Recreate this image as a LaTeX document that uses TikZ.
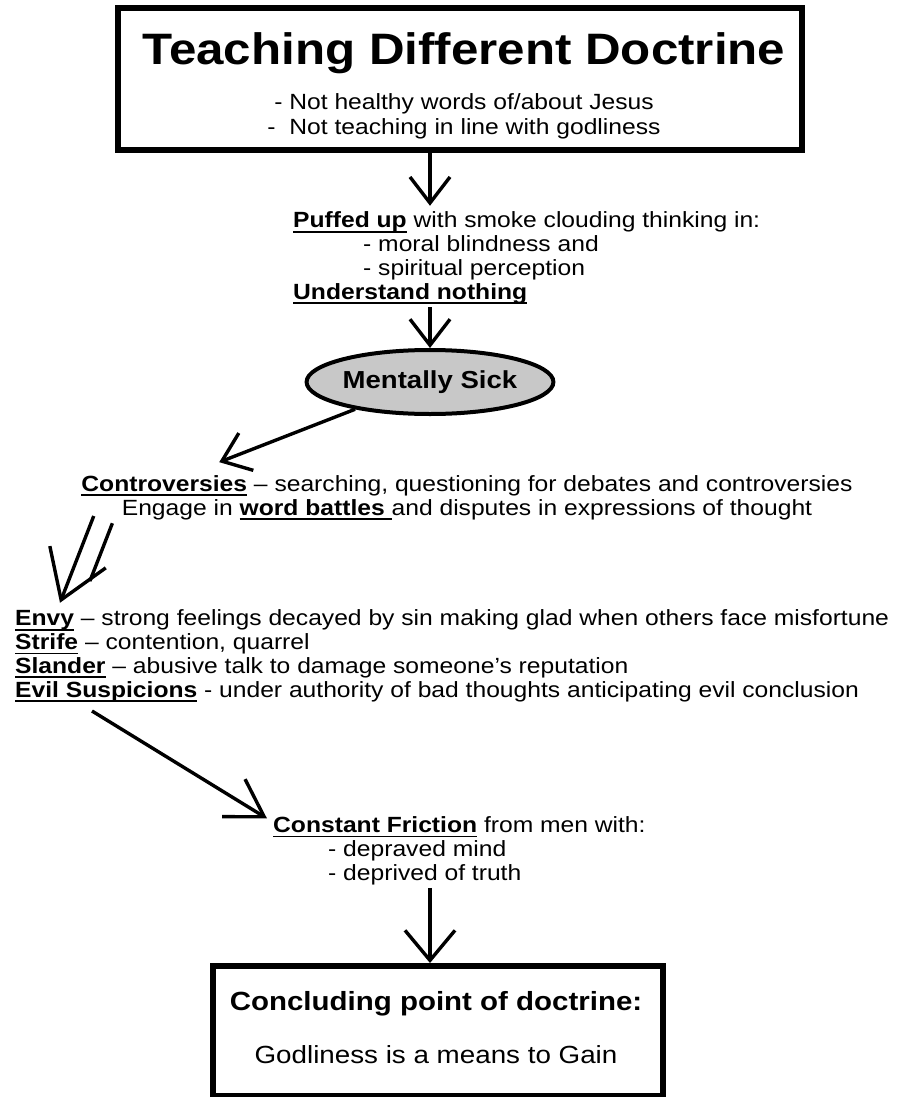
\documentclass[tikz,border=0pt]{standalone}
\usepackage{fontspec}
\setmainfont{Liberation Sans}[FakeStretch=1.12]
\usetikzlibrary{arrows.meta,shapes.geometric,calc,positioning}
\definecolor{sickgray}{RGB}{200,200,200}
\newcommand{\ulbf}[1]{\setbox0\hbox{\bfseries #1}\rlap{\rule[-4.8pt]{\wd0}{1.8pt}}\box0\relax}

\begin{document}
\begin{tikzpicture}[x=1pt,y=-1pt,
  box/.style={draw, line width=5.5pt, inner sep=0pt},
  txt/.style={inner sep=0pt, font=\fontsize{22}{23.7}\selectfont},
  arr/.style={line width=3.4pt, -{Straight Barb[length=26pt,width=40pt]}}]
\useasboundingbox (0,0) rectangle (910,1097);

\node[box, minimum width=684pt, minimum height=142pt] (top) at (460,79) {};
\node[inner sep=0pt, anchor=base, font=\fontsize{44}{44}\selectfont\bfseries] (title) at (464,65) {Teaching Different Doctrine};
\node[inner sep=0pt, anchor=base, align=center, font=\fontsize{22}{25}\selectfont] (notes) at (464,135) {- Not healthy words of/about Jesus\\-\ \ Not teaching in line with godliness};

\node[txt, anchor=base west, align=left] (puff) at (293,299) {\ulbf{Puffed up} with smoke clouding thinking in:\\\hspace*{70pt}- moral blindness and\\\hspace*{70pt}- spiritual perception\\\ulbf{Understand nothing}};

\node[ellipse, draw, line width=4pt, fill=sickgray, inner sep=0pt, minimum width=242pt, minimum height=64pt, font=\fontsize{24.6}{25}\selectfont\bfseries] (sick) at (430,382) {Mentally Sick};

\node[txt, anchor=base, align=center] (ctrv) at (467,515) {\ulbf{Controversies} – searching, questioning for debates and controversies\\Engage in \ulbf{word battles\ }and disputes in expressions of thought};

\node[txt, anchor=base west, align=left] (envy) at (15,697) {\ulbf{Envy} – strong feelings decayed by sin making glad when others face misfortune\\\ulbf{Strife} – contention, quarrel\\\ulbf{Slander} – abusive talk to damage someone’s reputation\\\ulbf{Evil Suspicions} - under authority of bad thoughts anticipating evil conclusion};

\node[txt, anchor=base west, align=left] (frict) at (273,880) {\ulbf{Constant Friction} from men with:\\\hspace*{55pt}- depraved mind\\\hspace*{55pt}- deprived of truth};

\node[box, anchor=north, minimum width=450pt, minimum height=130pt] (concl) at (438,963) {};
\node[inner sep=0pt, anchor=base, font=\fontsize{26.3}{27}\selectfont\bfseries] (point) at (436,1010) {Concluding point of doctrine:};
\node[inner sep=0pt, anchor=base, font=\fontsize{24.8}{25}\selectfont] (gain) at (436,1063) {Godliness is a means to Gain};

\coordinate (ctip) at ($(ctrv.north west)+(138,-13)$);
\coordinate (dtail) at ($(ctrv.south west)+(12.5,-4)$);
\coordinate (dtip) at ($(envy.north west)+(45,-7)$);
\coordinate (etail) at ($(envy.south west)+(77,9)$);
\coordinate (ftip) at ($(frict.north west)+(-6,2)$);

\draw[arr] (top.south -| sick) -- ($(puff.north -| sick)+(0,-6)$);
\draw[arr] ($(puff.south -| sick)+(0,3)$) -- (sick.north);
\draw[arr] (sick.200) -- (ctip);
\draw[arr, -{Straight Barb[length=46pt,width=60pt]}] (dtail) -- (dtip);
\draw[line width=3.4pt, shorten >=31pt] ($(dtail)!20pt!90:(dtip)$) -- ($(dtip)!20pt!-90:(dtail)$);
\draw[arr, -{Straight Barb[length=36pt,width=44pt]}] (etail) -- (ftip);
\draw[arr, -{Straight Barb[length=30pt,width=50pt]}] ($(frict.south -| sick)+(0,3)$) -- (concl.north -| sick);
\end{tikzpicture}
\end{document}
